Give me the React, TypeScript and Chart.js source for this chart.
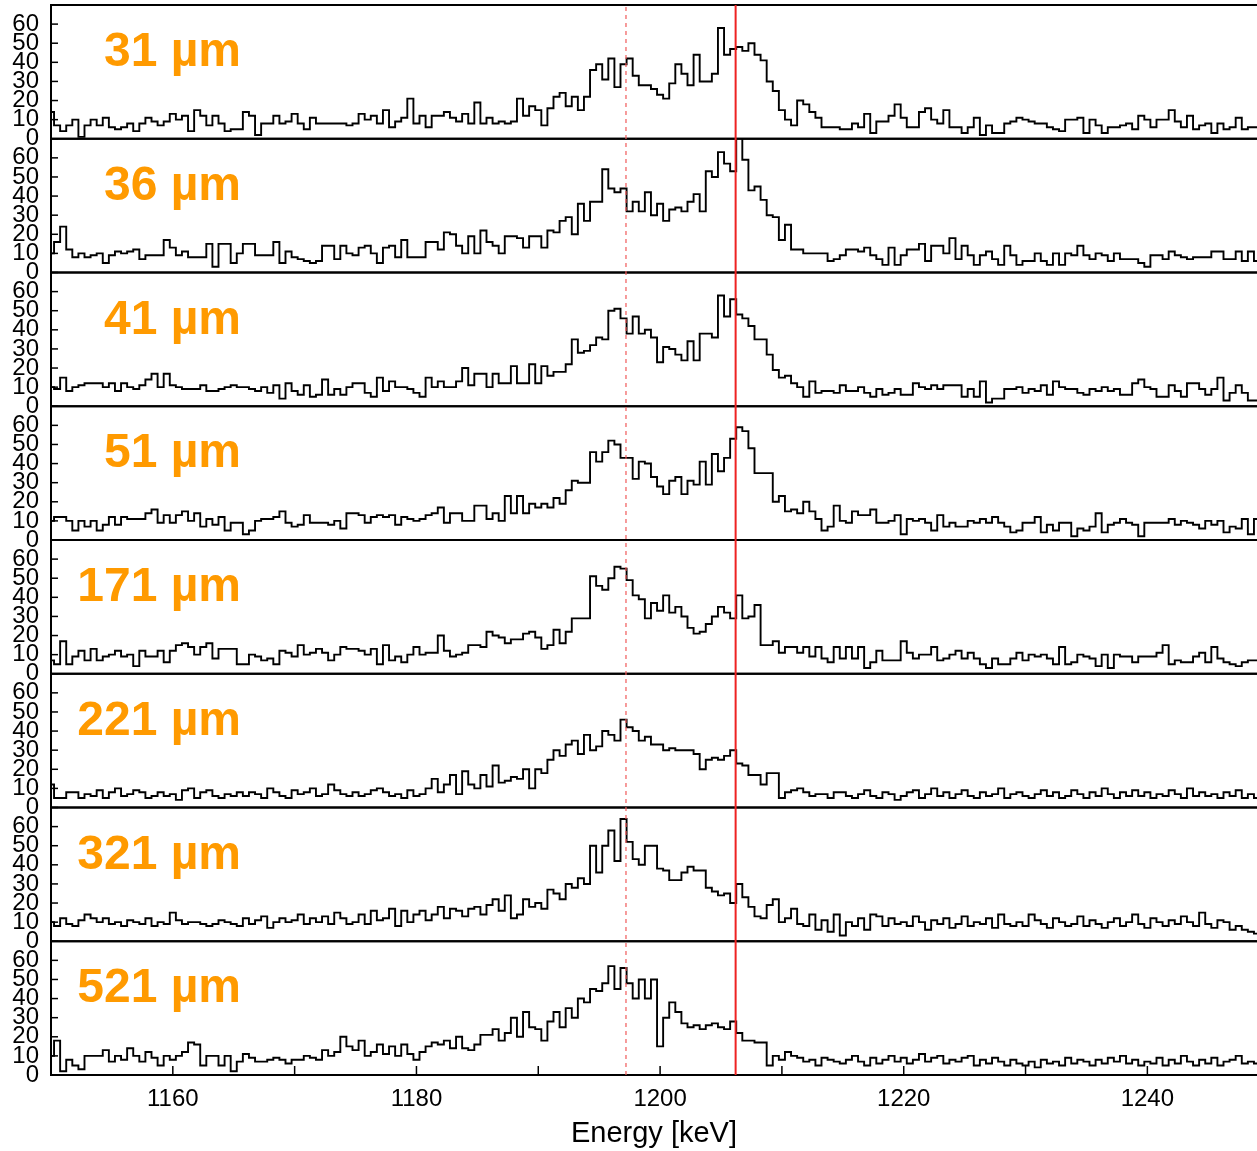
import React, { useEffect, useRef } from 'react';
import { Chart, registerables } from 'chart.js';

Chart.register(...registerables);

// Energy axis: 0.5 keV bins, first bin centred on 1150 keV
const ENERGY_MIN = 1150;
const ENERGY_MAX = 1249;
const BIN_WIDTH = 0.5;

const thicknessLabels = ['31 µm', '36 µm', '41 µm', '51 µm', '171 µm', '221 µm', '321 µm', '521 µm'];

// Counts per bin for each absorber thickness
const counts31 = [
  14, 7, 4, 7, 10, 1, 7, 10, 7, 11,
  6, 5, 6, 8, 4, 8, 11, 9, 7, 9,
  13, 10, 12, 4, 15, 12, 7, 12, 8, 4,
  5, 5, 14, 12, 2, 8, 8, 12, 8, 9,
  13, 8, 5, 11, 8, 8, 8, 8, 8, 7,
  8, 13, 10, 12, 8, 15, 6, 9, 11, 21,
  8, 12, 6, 12, 12, 14, 11, 9, 13, 8,
  19, 8, 11, 8, 9, 8, 9, 21, 12, 17,
  15, 7, 16, 22, 24, 17, 22, 15, 22, 36,
  39, 31, 42, 27, 39, 42, 33, 28, 28, 26,
  23, 21, 29, 39, 34, 28, 44, 30, 30, 34,
  58, 44, 47, 48, 46, 50, 44, 41, 30, 25,
  15, 10, 7, 20, 18, 14, 11, 6, 6, 6,
  5, 5, 8, 6, 13, 3, 9, 9, 12, 18,
  11, 6, 6, 14, 16, 10, 8, 15, 6, 6,
  3, 6, 11, 2, 7, 3, 3, 8, 9, 11,
  10, 9, 8, 8, 6, 5, 4, 10, 10, 11,
  3, 10, 7, 3, 6, 6, 7, 8, 5, 12,
  10, 6, 10, 10, 15, 9, 6, 12, 5, 7,
  8, 3, 8, 5, 6, 11, 5, 6, 6,
];

const counts36 = [
  10, 16, 24, 12, 8, 10, 8, 9, 10, 5,
  9, 11, 10, 11, 12, 7, 9, 9, 9, 17,
  13, 9, 11, 8, 8, 8, 15, 3, 15, 15,
  5, 10, 15, 15, 9, 9, 9, 16, 5, 11,
  8, 7, 6, 5, 6, 14, 14, 7, 14, 10,
  9, 13, 14, 10, 5, 13, 14, 8, 17, 8,
  8, 8, 16, 16, 12, 21, 20, 14, 10, 19,
  10, 22, 16, 14, 10, 19, 19, 18, 13, 19,
  19, 13, 22, 21, 27, 29, 20, 36, 27, 37,
  37, 54, 44, 42, 44, 32, 37, 32, 42, 30,
  36, 27, 33, 34, 32, 37, 41, 32, 53, 50,
  63, 57, 53, 71, 59, 43, 45, 38, 30, 29,
  17, 25, 12, 12, 10, 10, 10, 10, 6, 7,
  9, 12, 12, 11, 13, 9, 7, 4, 13, 4,
  9, 12, 12, 15, 6, 14, 14, 10, 18, 7,
  14, 9, 4, 9, 11, 7, 4, 14, 9, 4,
  6, 6, 10, 6, 4, 10, 4, 10, 9, 14,
  9, 7, 10, 9, 6, 10, 7, 7, 7, 5,
  3, 9, 9, 7, 11, 9, 8, 7, 8, 8,
  8, 11, 11, 7, 7, 11, 6, 11, 6,
];

const counts41 = [
  10, 9, 15, 8, 10, 11, 12, 12, 12, 10,
  12, 8, 12, 10, 9, 11, 14, 17, 10, 17,
  11, 10, 9, 9, 9, 11, 8, 8, 9, 10,
  11, 10, 10, 9, 8, 10, 7, 11, 4, 12,
  8, 6, 11, 5, 6, 14, 6, 9, 6, 10,
  12, 12, 7, 5, 15, 8, 13, 10, 10, 9,
  7, 5, 15, 10, 13, 10, 10, 13, 20, 11,
  17, 17, 10, 17, 12, 12, 21, 12, 12, 22,
  12, 21, 16, 18, 18, 22, 35, 28, 29, 32,
  36, 35, 50, 51, 46, 38, 47, 38, 40, 36,
  23, 31, 30, 27, 24, 34, 24, 38, 38, 36,
  58, 47, 56, 48, 46, 42, 35, 35, 27, 19,
  15, 16, 12, 10, 5, 13, 7, 8, 8, 7,
  11, 8, 8, 10, 7, 5, 9, 6, 7, 9,
  6, 6, 12, 10, 9, 11, 9, 11, 11, 11,
  5, 9, 5, 13, 2, 4, 4, 9, 9, 10,
  7, 9, 8, 11, 6, 13, 10, 9, 9, 7,
  6, 9, 8, 10, 8, 9, 6, 6, 12, 14,
  10, 9, 5, 5, 11, 8, 5, 12, 12, 9,
  6, 9, 15, 3, 7, 11, 7, 3, 3,
];

const counts51 = [
  10, 12, 12, 10, 5, 10, 7, 10, 5, 8,
  12, 8, 12, 11, 11, 11, 14, 16, 9, 13,
  9, 13, 15, 10, 14, 7, 11, 8, 12, 5,
  9, 9, 3, 5, 10, 11, 11, 12, 15, 9,
  7, 8, 13, 9, 9, 9, 8, 10, 6, 14,
  14, 13, 9, 12, 13, 12, 13, 8, 12, 11,
  10, 11, 13, 14, 17, 9, 14, 14, 10, 10,
  18, 18, 11, 14, 10, 23, 14, 23, 14, 19,
  17, 19, 17, 22, 19, 26, 31, 30, 30, 46,
  41, 46, 52, 50, 43, 43, 32, 41, 40, 33,
  28, 24, 31, 33, 24, 31, 29, 41, 29, 45,
  36, 43, 53, 59, 57, 48, 35, 35, 35, 20,
  23, 15, 16, 14, 20, 15, 11, 5, 7, 18,
  10, 9, 15, 13, 13, 16, 9, 9, 10, 13,
  3, 11, 10, 11, 9, 5, 13, 7, 9, 7,
  7, 10, 9, 11, 9, 12, 9, 7, 4, 5,
  9, 9, 12, 4, 8, 5, 9, 9, 2, 6,
  5, 7, 14, 4, 8, 9, 11, 9, 8, 2,
  9, 9, 9, 9, 11, 8, 10, 9, 8, 6,
  10, 8, 10, 4, 7, 6, 11, 3, 11,
];

const counts171 = [
  7, 5, 17, 5, 9, 12, 7, 13, 7, 9,
  10, 12, 9, 10, 4, 12, 9, 9, 12, 6,
  12, 15, 16, 14, 10, 14, 16, 8, 13, 13,
  13, 5, 5, 10, 9, 7, 8, 5, 12, 11,
  9, 15, 10, 11, 13, 11, 7, 10, 14, 13,
  13, 12, 10, 13, 5, 15, 7, 9, 6, 10,
  14, 10, 11, 11, 20, 12, 9, 10, 11, 15,
  15, 14, 22, 20, 19, 16, 18, 18, 21, 22,
  19, 13, 15, 23, 16, 22, 29, 29, 29, 51,
  46, 44, 50, 56, 55, 49, 41, 39, 29, 37,
  33, 41, 32, 35, 30, 24, 21, 22, 26, 30,
  35, 32, 29, 41, 29, 30, 36, 15, 15, 17,
  11, 14, 14, 11, 14, 9, 14, 8, 6, 14,
  8, 14, 8, 14, 3, 6, 12, 7, 7, 7,
  17, 11, 8, 10, 10, 14, 7, 8, 10, 12,
  8, 11, 8, 5, 3, 8, 5, 5, 8, 11,
  7, 10, 9, 10, 8, 5, 14, 5, 6, 10,
  9, 8, 4, 10, 3, 10, 9, 9, 6, 9,
  9, 9, 11, 15, 5, 7, 6, 6, 9, 11,
  6, 14, 8, 6, 5, 4, 6, 7, 7,
];

const counts221 = [
  12, 5, 5, 8, 8, 5, 7, 6, 9, 5,
  8, 10, 6, 7, 9, 8, 5, 6, 8, 6,
  7, 4, 9, 10, 5, 8, 9, 6, 5, 7,
  6, 8, 6, 8, 7, 5, 10, 8, 6, 5,
  9, 7, 8, 10, 6, 7, 12, 9, 7, 6,
  8, 6, 7, 9, 10, 8, 6, 7, 5, 9,
  6, 7, 10, 15, 8, 12, 17, 7, 19, 12,
  10, 17, 11, 22, 13, 14, 16, 15, 20, 10,
  20, 18, 25, 30, 27, 33, 35, 28, 38, 30,
  32, 40, 38, 35, 46, 42, 40, 35, 37, 33,
  33, 30, 31, 30, 30, 30, 28, 20, 25, 26,
  25, 27, 30, 23, 22, 17, 17, 12, 18, 18,
  5, 8, 9, 10, 8, 6, 7, 7, 5, 8,
  8, 6, 5, 7, 9, 6, 5, 8, 7, 4,
  6, 8, 9, 5, 7, 10, 6, 8, 5, 7,
  9, 6, 5, 8, 6, 7, 10, 5, 7, 8,
  6, 5, 7, 9, 6, 8, 5, 6, 9, 7,
  5, 8, 6, 10, 7, 5, 8, 6, 9, 6,
  8, 5, 7, 6, 9, 7, 5, 10, 6, 8,
  6, 7, 5, 8, 6, 9, 5, 7, 5,
];

const counts321 = [
  10, 8, 12, 9, 8, 11, 14, 12, 10, 12,
  9, 10, 8, 11, 10, 9, 12, 8, 10, 9,
  15, 11, 9, 10, 10, 9, 8, 9, 11, 10,
  9, 8, 12, 9, 11, 13, 7, 10, 12, 10,
  11, 14, 9, 12, 10, 13, 9, 15, 12, 9,
  10, 14, 9, 16, 11, 12, 17, 8, 16, 10,
  14, 16, 11, 14, 18, 12, 17, 16, 13, 17,
  18, 14, 19, 22, 16, 24, 12, 14, 22, 18,
  20, 17, 27, 25, 22, 30, 28, 33, 30, 50,
  36, 50, 58, 42, 64, 52, 43, 40, 50, 50,
  38, 37, 32, 32, 36, 39, 37, 37, 28, 26,
  24, 25, 20, 30, 23, 18, 13, 12, 19, 22,
  10, 12, 17, 9, 8, 14, 6, 11, 5, 14,
  3, 10, 8, 12, 6, 14, 13, 8, 12, 9,
  10, 8, 13, 10, 6, 11, 9, 12, 7, 9,
  13, 8, 10, 9, 12, 7, 14, 9, 8, 10,
  8, 14, 11, 9, 7, 12, 10, 8, 9, 13,
  8, 11, 9, 7, 10, 12, 8, 10, 14, 9,
  7, 12, 10, 8, 11, 9, 13, 10, 8, 15,
  9, 7, 11, 10, 6, 8, 6, 5, 4,
];

const counts521 = [
  10, 18, 2, 8, 5, 3, 10, 10, 10, 13,
  7, 10, 8, 14, 10, 7, 12, 9, 5, 10,
  8, 10, 12, 17, 16, 5, 10, 10, 5, 10,
  2, 7, 11, 9, 7, 7, 8, 9, 8, 6,
  8, 8, 10, 9, 8, 13, 10, 12, 20, 15,
  13, 18, 10, 12, 16, 11, 15, 10, 16, 11,
  8, 12, 15, 17, 16, 18, 14, 20, 14, 13,
  16, 21, 21, 24, 18, 22, 30, 20, 33, 25,
  24, 18, 28, 33, 25, 35, 30, 40, 38, 45,
  44, 48, 57, 45, 56, 48, 40, 50, 40, 50,
  15, 30, 38, 33, 27, 25, 26, 24, 26, 27,
  25, 24, 28, 22, 18, 18, 17, 17, 5, 10,
  8, 12, 10, 9, 7, 8, 5, 9, 8, 7,
  6, 8, 10, 7, 5, 9, 6, 8, 10, 7,
  9, 6, 8, 11, 7, 9, 10, 6, 8, 7,
  9, 10, 5, 8, 6, 9, 7, 5, 8, 6,
  5, 7, 4, 8, 6, 7, 5, 9, 6, 8,
  7, 5, 8, 6, 9, 7, 10, 6, 8, 5,
  7, 6, 9, 5, 8, 6, 10, 7, 5, 8,
  6, 9, 5, 7, 8, 10, 6, 7, 6,
];

const spectra = [counts31, counts36, counts41, counts51, counts171, counts221, counts321, counts521];

const countTicks = [0, 10, 20, 30, 40, 50, 60];
const COUNT_MAX = 70;
const energyTickStep = 10;
const energyLabelStep = 20;

// Marker energies (keV)
const dashedMarker = 1197.2;
const solidMarker = 1206.2;

const FONT = '"Liberation Sans", Arial, Helvetica, sans-serif';
const ORANGE = '#ff9a00';

const panelDecor = {
  id: 'panelDecor',
  afterDatasetsDraw(chart: any) {
    const { ctx, chartArea, scales } = chart;
    const xs = scales.x;
    const left = chartArea.left;
    const right = chartArea.right;
    ctx.save();

    // inward count ticks
    ctx.strokeStyle = '#000';
    ctx.lineWidth = 1.5;
    spectra.forEach((_, i) => {
      const ys = scales['y' + i];
      countTicks.forEach((v) => {
        const y = ys.getPixelForValue(v);
        ctx.beginPath();
        ctx.moveTo(left, y);
        ctx.lineTo(left + 7, y);
        ctx.stroke();
      });
    });

    // inward energy ticks on the bottom axis
    for (let e = ENERGY_MIN; e <= ENERGY_MAX; e += energyTickStep) {
      const x = xs.getPixelForValue(e);
      ctx.beginPath();
      ctx.moveTo(x, chartArea.bottom);
      ctx.lineTo(x, chartArea.bottom - 9);
      ctx.stroke();
    }

    // panel frames
    ctx.lineWidth = 2;
    spectra.forEach((_, i) => {
      const ys = scales['y' + i];
      ctx.strokeRect(left, ys.top, right - left + 4, ys.bottom - ys.top);
    });

    // marker lines
    const xd = xs.getPixelForValue(dashedMarker);
    ctx.strokeStyle = '#f05a5a';
    ctx.lineWidth = 1.2;
    ctx.setLineDash([4, 4]);
    ctx.beginPath();
    ctx.moveTo(xd, chartArea.top + 2);
    ctx.lineTo(xd, chartArea.bottom);
    ctx.stroke();
    ctx.setLineDash([]);

    const xsld = xs.getPixelForValue(solidMarker);
    ctx.strokeStyle = '#ee2222';
    ctx.lineWidth = 2;
    ctx.beginPath();
    ctx.moveTo(xsld, chartArea.top);
    ctx.lineTo(xsld, chartArea.bottom);
    ctx.stroke();

    // thickness labels
    ctx.fillStyle = ORANGE;
    ctx.font = `bold 48px ${FONT}`;
    ctx.textAlign = 'right';
    ctx.textBaseline = 'alphabetic';
    thicknessLabels.forEach((label, i) => {
      const ys = scales['y' + i];
      ctx.fillText(label, 241, ys.top + 61);
    });

    ctx.restore();
  },
};

export default function App() {
  const ref = useRef<HTMLCanvasElement>(null);

  useEffect(() => {
    const canvas = ref.current;
    if (!canvas) return;

    const datasets = spectra.map((counts, i) => ({
      label: thicknessLabels[i],
      data: counts.map((c, k) => ({ x: ENERGY_MIN + k * BIN_WIDTH, y: c })),
      yAxisID: 'y' + i,
      borderColor: '#000',
      borderWidth: 1.9,
      stepped: 'middle' as const,
      pointRadius: 0,
      fill: false,
    }));

    const scales: any = {
      x: {
        type: 'linear',
        position: 'bottom',
        min: ENERGY_MIN,
        max: ENERGY_MAX,
        grid: { display: false, drawTicks: false, tickLength: 0 },
        border: { display: false },
        ticks: {
          stepSize: energyTickStep,
          includeBounds: false,
          autoSkip: false,
          maxRotation: 0,
          padding: 10,
          color: '#000',
          font: { family: FONT, size: 24 },
          callback: (v: number) => (v % energyLabelStep === 0 ? String(v) : ''),
        },
        title: {
          display: true,
          text: 'Energy [keV]',
          color: '#000',
          font: { family: FONT, size: 29 },
          padding: 0,
        },
        afterFit: (s: any) => {
          s.height = 76;
          s.paddingLeft = 0;
          s.paddingRight = 0;
          s.paddingTop = 0;
          s.paddingBottom = 0;
        },
      },
    };

    spectra.forEach((_, i) => {
      scales['y' + i] = {
        type: 'linear',
        position: 'left',
        stack: 'panels',
        stackWeight: 1,
        weight: spectra.length - i,
        min: 0,
        max: COUNT_MAX,
        grid: { display: false, drawTicks: false, tickLength: 0 },
        border: { display: false },
        ticks: {
          stepSize: 10,
          autoSkip: false,
          padding: 12,
          color: '#000',
          font: { family: FONT, size: 24 },
          callback: (v: number) => (countTicks.includes(v) ? String(v) : ''),
        },
        afterFit: (s: any) => {
          s.width = 51;
          s.paddingTop = 0;
          s.paddingBottom = 0;
          s.paddingLeft = 0;
          s.paddingRight = 0;
        },
      };
    });

    const chart = new Chart(canvas, {
      type: 'line',
      data: { datasets },
      options: {
        responsive: false,
        animation: false,
        devicePixelRatio: 1,
        events: [],
        layout: { autoPadding: false, padding: { top: 5, left: 0, right: 0, bottom: 0 } },
        plugins: { legend: { display: false }, tooltip: { enabled: false } },
        scales,
      } as any,
      plugins: [panelDecor],
    });

    return () => chart.destroy();
  }, []);

  return (
    <div style={{ position: 'absolute', left: 0, top: 0, width: 1257, height: 1151, background: '#fff' }}>
      <canvas ref={ref} width={1257} height={1151} style={{ display: 'block' }} />
    </div>
  );
}
